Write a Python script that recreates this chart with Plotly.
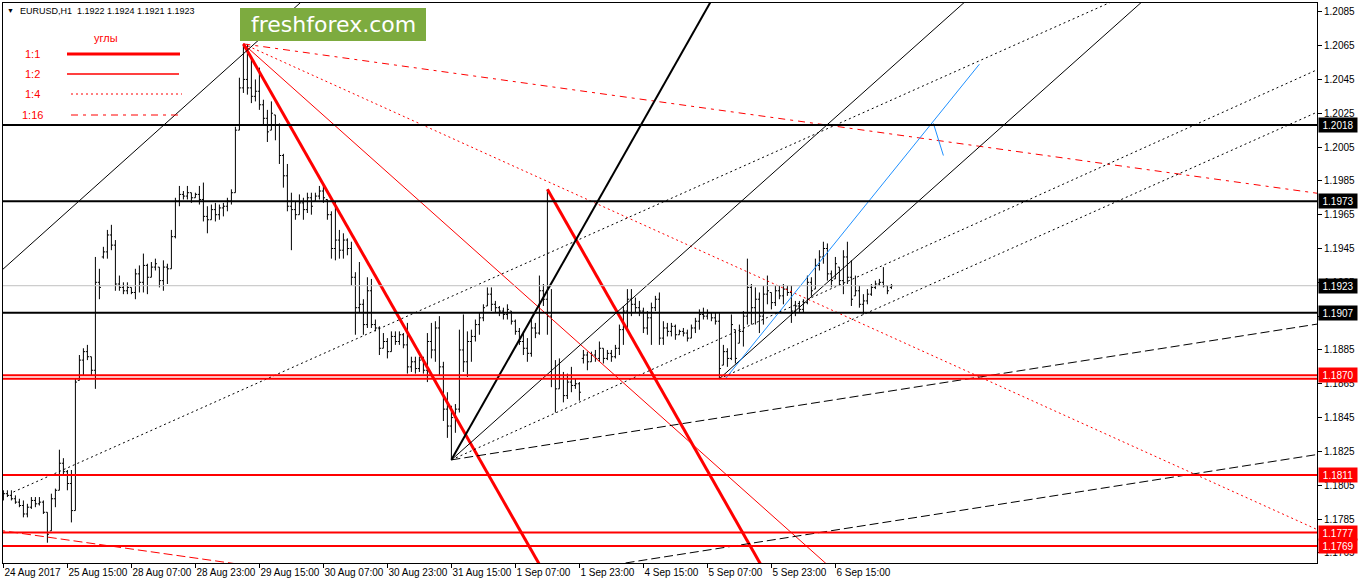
import plotly.graph_objects as go

# EURUSD H1, bar 0 = 24 Aug 2017 23:00 (one bar per hour, weekends skipped)
opens = [
    1.1798, 1.1800, 1.1799, 1.1797, 1.1795, 1.1793, 1.1788, 1.1792, 1.1796, 1.1794,
    1.1795, 1.1789, 1.1778, 1.1797, 1.1802, 1.1818, 1.1813, 1.1806, 1.1790, 1.1867,
    1.1879, 1.1884, 1.1881, 1.1873, 1.1925, 1.1940, 1.1943, 1.1953, 1.1947, 1.1924,
    1.1922, 1.1920, 1.1922, 1.1919, 1.1930, 1.1925, 1.1935, 1.1928, 1.1934, 1.1934,
    1.1926, 1.1934, 1.1933, 1.1952, 1.1973, 1.1977, 1.1976, 1.1978, 1.1975, 1.1977,
    1.1974, 1.1964, 1.1962, 1.1968, 1.1965, 1.1969, 1.1970, 1.1973, 1.1978, 1.2015,
    1.2040, 1.2045, 1.2040, 1.2035, 1.2038, 1.2030, 1.2022, 1.2015, 1.2024, 1.2018,
    1.2000, 1.1988, 1.1970, 1.1968, 1.1965, 1.1972, 1.1968, 1.1975, 1.1973, 1.1976,
    1.1979, 1.1974, 1.1965, 1.1945, 1.1950, 1.1944, 1.1950, 1.1945, 1.1928, 1.1910,
    1.1912, 1.1900, 1.1920, 1.1900, 1.1898, 1.1886, 1.1890, 1.1884, 1.1893, 1.1890,
    1.1894, 1.1888, 1.1875, 1.1878, 1.1874, 1.1879, 1.1873, 1.1890, 1.1885, 1.1898,
    1.1875, 1.1850, 1.1840, 1.1845, 1.1850, 1.1885, 1.1878, 1.1890, 1.1893, 1.1900,
    1.1904, 1.1911, 1.1918, 1.1912, 1.1910, 1.1908, 1.1906, 1.1908, 1.1902, 1.1896,
    1.1890, 1.1886, 1.1883, 1.1898, 1.1895, 1.1920, 1.1915, 1.1905, 1.1868, 1.1862,
    1.1870, 1.1858, 1.1866, 1.1864, 1.1865, 1.1880, 1.1882, 1.1878, 1.1882, 1.1880,
    1.1886, 1.1880, 1.1883, 1.1881, 1.1886, 1.1897, 1.1908, 1.1915, 1.1912, 1.1910,
    1.1908, 1.1898, 1.1904, 1.1910, 1.1915, 1.1892, 1.1898, 1.1896, 1.1899, 1.1894,
    1.1896, 1.1895, 1.1892, 1.1898, 1.1902, 1.1906, 1.1905, 1.1907, 1.1904, 1.1902,
    1.1876, 1.1884, 1.1880, 1.1897, 1.1889, 1.1896, 1.1905, 1.1922, 1.1910, 1.1915,
    1.1905, 1.1918, 1.1919, 1.1913, 1.1920, 1.1917, 1.1921, 1.1919, 1.1908, 1.1911,
    1.1909, 1.1913, 1.1925, 1.1921, 1.1935, 1.1940, 1.1945, 1.1930, 1.1927, 1.1934,
    1.1926, 1.1940, 1.1928, 1.1917, 1.1920, 1.1912, 1.1914, 1.1918, 1.1922, 1.1924,
    1.1925, 1.1923, 1.1922,
]
highs = [
    1.1802, 1.1802, 1.1802, 1.1799, 1.1797, 1.1796, 1.1794, 1.1798, 1.1798, 1.1798,
    1.1796, 1.1789, 1.1800, 1.1803, 1.1826, 1.1821, 1.1814, 1.1814, 1.1868, 1.1882,
    1.1886, 1.1888, 1.1881, 1.1940, 1.1933, 1.1946, 1.1956, 1.1959, 1.1950, 1.1929,
    1.1925, 1.1925, 1.1922, 1.1933, 1.1935, 1.1942, 1.1936, 1.1937, 1.1939, 1.1934,
    1.1938, 1.1936, 1.1956, 1.1975, 1.1982, 1.1979, 1.1982, 1.1978, 1.1978, 1.1982,
    1.1984, 1.1970, 1.1971, 1.1972, 1.1971, 1.1972, 1.1975, 1.1980, 1.2017, 1.2046,
    1.2066, 1.2066, 1.2058, 1.2045, 1.2052, 1.2033, 1.2027, 1.2032, 1.2024, 1.2019,
    1.2001, 1.1995, 1.1978, 1.1973, 1.1977, 1.1975, 1.1978, 1.1978, 1.1978, 1.1982,
    1.1983, 1.1974, 1.1967, 1.1973, 1.1956, 1.1954, 1.1951, 1.1949, 1.1931, 1.1937,
    1.1915, 1.1928, 1.1927, 1.1903, 1.1899, 1.1895, 1.1892, 1.1896, 1.1896, 1.1896,
    1.1895, 1.1901, 1.1881, 1.1881, 1.1881, 1.1881, 1.1895, 1.1901, 1.1902, 1.1905,
    1.1878, 1.1860, 1.1852, 1.1853, 1.1897, 1.1906, 1.1896, 1.1897, 1.1903, 1.1907,
    1.1912, 1.1922, 1.1922, 1.1914, 1.1911, 1.1910, 1.1912, 1.1908, 1.1903, 1.1898,
    1.1896, 1.1892, 1.1903, 1.1901, 1.1929, 1.1924, 1.1980, 1.1921, 1.1879, 1.1880,
    1.1872, 1.1871, 1.1875, 1.1868, 1.1866, 1.1885, 1.1884, 1.1884, 1.1885, 1.1890,
    1.1886, 1.1885, 1.1885, 1.1888, 1.1900, 1.1911, 1.1921, 1.1921, 1.1916, 1.1914,
    1.1910, 1.1908, 1.1913, 1.1917, 1.1919, 1.1902, 1.1901, 1.1901, 1.1900, 1.1897,
    1.1898, 1.1897, 1.1900, 1.1904, 1.1909, 1.1910, 1.1909, 1.1907, 1.1907, 1.1907,
    1.1888, 1.1886, 1.1906, 1.1897, 1.1900, 1.1908, 1.1939, 1.1924, 1.1922, 1.1919,
    1.1923, 1.1929, 1.1919, 1.1923, 1.1923, 1.1924, 1.1923, 1.1923, 1.1914, 1.1914,
    1.1915, 1.1929, 1.1928, 1.1939, 1.1944, 1.1949, 1.1948, 1.1932, 1.1940, 1.1934,
    1.1944, 1.1949, 1.1938, 1.1929, 1.1923, 1.1918, 1.1921, 1.1924, 1.1926, 1.1927,
    1.1934, 1.1923, 1.1924,
]
lows = [
    1.1796, 1.1798, 1.1796, 1.1794, 1.1792, 1.1786, 1.1786, 1.1791, 1.1792, 1.1793,
    1.1788, 1.1771, 1.1778, 1.1792, 1.1802, 1.1811, 1.1802, 1.1783, 1.1790, 1.1867,
    1.1870, 1.1879, 1.1870, 1.1862, 1.1915, 1.1939, 1.1939, 1.1944, 1.1920, 1.1920,
    1.1918, 1.1918, 1.1918, 1.1915, 1.1919, 1.1919, 1.1918, 1.1928, 1.1932, 1.1922,
    1.1920, 1.1924, 1.1933, 1.1951, 1.1970, 1.1974, 1.1974, 1.1972, 1.1975, 1.1971,
    1.1961, 1.1954, 1.1962, 1.1961, 1.1962, 1.1964, 1.1967, 1.1971, 1.1978, 1.2015,
    1.2037, 1.2036, 1.2031, 1.2032, 1.2027, 1.2018, 1.2008, 1.2015, 1.2009, 1.1995,
    1.1981, 1.1967, 1.1944, 1.1962, 1.1965, 1.1962, 1.1966, 1.1965, 1.1973, 1.1974,
    1.1972, 1.1962, 1.1939, 1.1938, 1.1939, 1.1939, 1.1941, 1.1923, 1.1894, 1.1907,
    1.1894, 1.1898, 1.1898, 1.1896, 1.1882, 1.1886, 1.1880, 1.1884, 1.1888, 1.1888,
    1.1886, 1.1871, 1.1872, 1.1871, 1.1872, 1.1871, 1.1866, 1.1880, 1.1878, 1.1870,
    1.1843, 1.1833, 1.1820, 1.1836, 1.1848, 1.1872, 1.1869, 1.1878, 1.1890, 1.1894,
    1.1902, 1.1911, 1.1908, 1.1907, 1.1905, 1.1903, 1.1903, 1.1900, 1.1894, 1.1888,
    1.1882, 1.1878, 1.1881, 1.1892, 1.1894, 1.1911, 1.1894, 1.1863, 1.1848, 1.1862,
    1.1854, 1.1856, 1.1860, 1.1862, 1.1855, 1.1877, 1.1873, 1.1878, 1.1878, 1.1878,
    1.1877, 1.1879, 1.1878, 1.1880, 1.1882, 1.1888, 1.1897, 1.1905, 1.1907, 1.1905,
    1.1895, 1.1894, 1.1888, 1.1908, 1.1888, 1.1888, 1.1893, 1.1893, 1.1891, 1.1894,
    1.1893, 1.1890, 1.1892, 1.1895, 1.1897, 1.1903, 1.1903, 1.1902, 1.1900, 1.1868,
    1.1876, 1.1875, 1.1879, 1.1877, 1.1889, 1.1887, 1.1900, 1.1900, 1.1900, 1.1895,
    1.1900, 1.1912, 1.1909, 1.1911, 1.1915, 1.1912, 1.1917, 1.1901, 1.1905, 1.1907,
    1.1907, 1.1912, 1.1917, 1.1921, 1.1932, 1.1936, 1.1926, 1.1922, 1.1927, 1.1923,
    1.1918, 1.1924, 1.1911, 1.1917, 1.1910, 1.1906, 1.1912, 1.1917, 1.1921, 1.1923,
    1.1922, 1.1918, 1.1921,
]
closes = [
    1.1800, 1.1799, 1.1797, 1.1795, 1.1793, 1.1788, 1.1792, 1.1796, 1.1794, 1.1795,
    1.1789, 1.1776, 1.1797, 1.1802, 1.1818, 1.1813, 1.1806, 1.1790, 1.1866, 1.1879,
    1.1884, 1.1881, 1.1873, 1.1925, 1.1922, 1.1943, 1.1953, 1.1947, 1.1924, 1.1922,
    1.1920, 1.1922, 1.1919, 1.1930, 1.1925, 1.1935, 1.1928, 1.1934, 1.1936, 1.1926,
    1.1934, 1.1933, 1.1952, 1.1973, 1.1977, 1.1976, 1.1978, 1.1975, 1.1977, 1.1974,
    1.1964, 1.1962, 1.1968, 1.1965, 1.1969, 1.1970, 1.1973, 1.1978, 1.2015, 1.2040,
    1.2045, 1.2040, 1.2035, 1.2038, 1.2030, 1.2022, 1.2014, 1.2025, 1.2018, 1.2000,
    1.1988, 1.1970, 1.1968, 1.1965, 1.1972, 1.1968, 1.1975, 1.1970, 1.1976, 1.1979,
    1.1975, 1.1965, 1.1945, 1.1950, 1.1944, 1.1950, 1.1945, 1.1928, 1.1910, 1.1912,
    1.1900, 1.1920, 1.1900, 1.1898, 1.1886, 1.1890, 1.1884, 1.1893, 1.1890, 1.1894,
    1.1888, 1.1875, 1.1878, 1.1874, 1.1879, 1.1873, 1.1890, 1.1885, 1.1898, 1.1875,
    1.1850, 1.1840, 1.1845, 1.1850, 1.1885, 1.1878, 1.1890, 1.1893, 1.1900, 1.1904,
    1.1910, 1.1918, 1.1912, 1.1910, 1.1908, 1.1906, 1.1909, 1.1902, 1.1896, 1.1890,
    1.1886, 1.1883, 1.1898, 1.1895, 1.1920, 1.1915, 1.1905, 1.1868, 1.1862, 1.1870,
    1.1858, 1.1866, 1.1864, 1.1865, 1.1860, 1.1882, 1.1878, 1.1882, 1.1880, 1.1886,
    1.1880, 1.1883, 1.1881, 1.1886, 1.1897, 1.1908, 1.1915, 1.1912, 1.1910, 1.1908,
    1.1898, 1.1904, 1.1910, 1.1915, 1.1892, 1.1898, 1.1896, 1.1899, 1.1894, 1.1896,
    1.1895, 1.1892, 1.1898, 1.1902, 1.1906, 1.1905, 1.1907, 1.1904, 1.1902, 1.1874,
    1.1884, 1.1880, 1.1900, 1.1880, 1.1896, 1.1905, 1.1922, 1.1910, 1.1915, 1.1905,
    1.1918, 1.1920, 1.1913, 1.1920, 1.1917, 1.1921, 1.1919, 1.1908, 1.1911, 1.1909,
    1.1913, 1.1925, 1.1920, 1.1935, 1.1940, 1.1945, 1.1930, 1.1926, 1.1936, 1.1926,
    1.1940, 1.1928, 1.1915, 1.1920, 1.1912, 1.1914, 1.1918, 1.1922, 1.1924, 1.1925,
    1.1923, 1.1920, 1.1923,
]

date_ticks = [0, 16, 32, 48, 64, 80, 96, 112, 128, 144, 160, 176, 192, 208]
date_labels = ["24 Aug 2017", "25 Aug 15:00", "28 Aug 07:00", "28 Aug 23:00",
               "29 Aug 15:00", "30 Aug 07:00", "30 Aug 23:00", "31 Aug 15:00",
               "1 Sep 07:00", "1 Sep 23:00", "4 Sep 15:00", "5 Sep 07:00",
               "5 Sep 23:00", "6 Sep 15:00"]

# horizontal levels
black_levels = [1.2018, 1.1973, 1.1907]
red_levels = [1.1870, 1.1868, 1.1811, 1.1777, 1.1769]
bid_level = 1.1923
label_levels = [1.2018, 1.1973, 1.1923, 1.1907, 1.1870, 1.1811, 1.1777, 1.1769]
label_texts = ["1.2018", "1.1973", "1.1923", "1.1907", "1.1870", "1.1811", "1.1777", "1.1769"]
label_colors = ["black", "black", "black", "black", "red", "red", "red", "red"]

# gann fans: origin bar, origin price, slopes (price per bar) for 1:1, 1:2, 1:4, 1:16
top_fan_origin = (60, 1.2066)
top_fan_slopes = [-0.000416, -0.000211, -0.000107, -0.0000329]
nfp_fan_origin = (136, 1.1980)
nfp_fan_slopes = [-0.000416]
low_fan_origin = (112, 1.1820)
low_fan_slopes = [0.000418, 0.000211, 0.0001066, 0.0000371]
low2_fan_origin = (179, 1.1868)
low2_fan_slopes = [None, 0.000211, 0.0001055]

# parallel copies (bar, price, slope, kind)
par_bars = [0, 2.5, 0, 328]
par_prices = [1.1933, 1.1801, 1.1778, 1.1823]
par_slopes = [0.000212, 0.0001056, -0.0000335, 0.0000371]
par_kinds = ["1:2", "1:4", "1:16", "1:16"]
par_colors = ["black", "black", "red", "black"]
par_rays = [False, True, False, False]

# blue projection
blue_x = [180.5, 244]
blue_y = [1.1868, 1.2054]
blue_tick_x = [232.5, 235]
blue_tick_y = [1.2019, 1.2000]

X_LO, X_HI = -0.1, 328.4
Y_LO, Y_HI = 1.17590, 1.20902
RED = "#ff0000"


def line_style(kind, color):
    if kind == "1:1":
        return dict(color=color, width=3 if color == RED else 2)
    if kind == "1:2":
        return dict(color=color, width=1)
    if kind == "1:4":
        return dict(color=color, width=1, dash="2px,3px")
    if color == RED:
        return dict(color=color, width=1, dash="7px,5px,3px,5px")
    return dict(color=color, width=1, dash="9px,4px")


def add_line(fig, x0, p0, slope, kind, color, ray=True):
    start = x0 if ray else -5
    end = 340
    fig.add_trace(go.Scatter(
        x=[start, end],
        y=[p0 + slope * (start - x0), p0 + slope * (end - x0)],
        mode="lines", line=line_style(kind, color), hoverinfo="skip"))


def px(x, y):
    # pixel position on the page -> paper coordinates
    return (x - 3) / 1314, (563 - y) / 560


fig = go.Figure()

fig.add_trace(go.Ohlc(
    x=list(range(len(opens))), open=opens, high=highs, low=lows, close=closes,
    increasing=dict(line=dict(color="black")),
    decreasing=dict(line=dict(color="black")),
    line=dict(width=1), tickwidth=0.4, hoverinfo="skip"))

fan_kinds = ["1:1", "1:2", "1:4", "1:16"]
for origin, slopes, color in [(top_fan_origin, top_fan_slopes, RED),
                              (nfp_fan_origin, nfp_fan_slopes, RED),
                              (low_fan_origin, low_fan_slopes, "black"),
                              (low2_fan_origin, low2_fan_slopes, "black")]:
    for kind, s in zip(fan_kinds, slopes):
        if s is not None:
            add_line(fig, origin[0], origin[1], s, kind, color)

for b, p, s, k, c, r in zip(par_bars, par_prices, par_slopes, par_kinds, par_colors, par_rays):
    add_line(fig, b, p, s, k, c, ray=r)

fig.add_trace(go.Scatter(x=blue_x, y=blue_y, mode="lines",
                         line=dict(color="#1e90ff", width=1), hoverinfo="skip"))
fig.add_trace(go.Scatter(x=blue_tick_x, y=blue_tick_y, mode="lines",
                         line=dict(color="#1e90ff", width=1), hoverinfo="skip"))

fig.add_hline(y=bid_level, line=dict(color="#c0c0c0", width=1))
for lvl in black_levels:
    fig.add_hline(y=lvl, line=dict(color="black", width=2))
for lvl in red_levels:
    fig.add_hline(y=lvl, line=dict(color=RED, width=2))

# price labels on the right scale
for lvl, txt, col in zip(label_levels, label_texts, label_colors):
    fig.add_annotation(x=1, xref="paper", xanchor="left", xshift=1,
                       y=lvl, yref="y", yanchor="middle", text=txt,
                       showarrow=False, bgcolor=col, width=36, height=12,
                       borderpad=1, font=dict(color="white", size=10))

# header
hx, hy = px(18, 11)
fig.add_annotation(x=hx, y=hy, xref="paper", yref="paper", xanchor="left",
                   yanchor="middle", showarrow=False,
                   text=f"EURUSD,H1  {opens[-1]:.4f} {highs[-1]:.4f} {lows[-1]:.4f} {closes[-1]:.4f}",
                   font=dict(size=9, color="black"))
tx, ty = px(10, 11)
fig.add_annotation(x=tx, y=ty, xref="paper", yref="paper", xanchor="center",
                   yanchor="middle", showarrow=False,
                   text="▼", font=dict(size=7, color="black"))

# watermark
x0, y0 = px(240, 8)
x1, y1 = px(426, 41)
fig.add_shape(type="rect", xref="paper", yref="paper", x0=x0, y0=y0, x1=x1, y1=y1,
              fillcolor="#7dab3f", line=dict(width=0), layer="above")
wx, wy = px(333, 25)
fig.add_annotation(x=wx, y=wy, xref="paper", yref="paper", xanchor="center",
                   yanchor="middle", showarrow=False,
                   text="freshforex.com", font=dict(family="DejaVu Sans", size=22, color="white"))

# legend of angles
lx, ly = px(106, 38)
fig.add_annotation(x=lx, y=ly, xref="paper", yref="paper", xanchor="center",
                   yanchor="middle", showarrow=False,
                   text="углы", font=dict(size=11, color=RED))
legend_rows = [("1:1", 54, 67, 180), ("1:2", 74, 67, 179), ("1:4", 94, 71, 182), ("1:16", 115, 71, 183)]
for kind, yy, xa, xb in legend_rows:
    tx, ty = px(32, yy)
    fig.add_annotation(x=tx, y=ty, xref="paper", yref="paper", xanchor="center",
                       yanchor="middle", showarrow=False,
                       text=kind, font=dict(size=11, color=RED))
    sx0, sy = px(xa, yy)
    sx1, _ = px(xb, yy)
    style = line_style(kind, RED)
    if kind == "1:2":
        style["width"] = 1.5
    fig.add_shape(type="line", xref="paper", yref="paper", x0=sx0, x1=sx1, y0=sy, y1=sy,
                  line=style)

fig.update_layout(
    width=1358, height=584,
    margin=dict(l=3, r=41, t=3, b=21),
    paper_bgcolor="white", plot_bgcolor="white",
    showlegend=False,
    font=dict(family="Liberation Sans", size=10, color="black"),
)
fig.update_xaxes(
    range=[X_LO, X_HI], tickvals=date_ticks, ticktext=date_labels, tickangle=0,
    ticks="outside", ticklen=4, tickcolor="black", ticklabelposition="outside right",
    showgrid=False, zeroline=False, showline=True, linecolor="black", linewidth=1,
    mirror=True, rangeslider=dict(visible=False), automargin=False,
)
fig.update_yaxes(
    range=[Y_LO, Y_HI], side="right", tick0=1.1765, dtick=0.002, tickformat=".4f",
    ticks="outside", ticklen=4, tickcolor="black",
    showgrid=False, zeroline=False, showline=True, linecolor="black", linewidth=1,
    mirror=True, automargin=False,
)

fig.write_html("out.html", config={"displayModeBar": False},
               post_script="document.body.style.margin='0';")
